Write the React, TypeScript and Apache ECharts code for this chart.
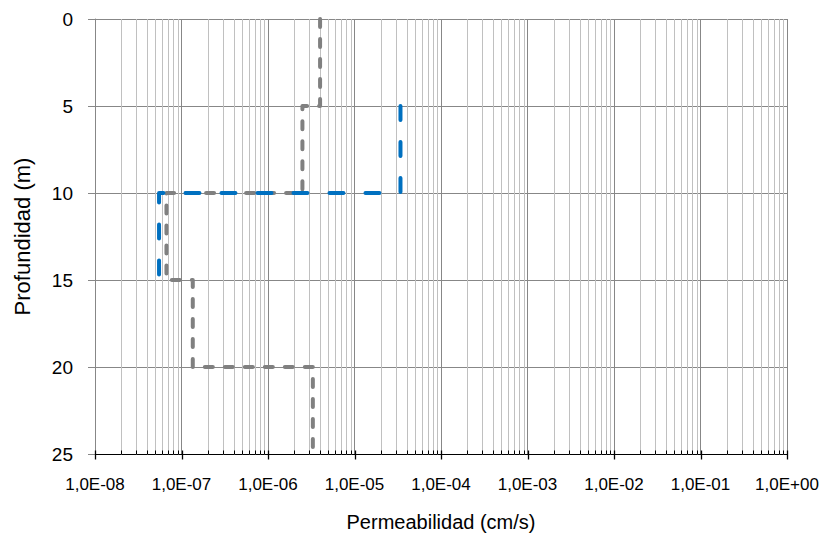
import React, { useEffect, useRef } from "react";
import * as echarts from "echarts";

// Tick labels / axis ranges
const depthTicks = [0, 5, 10, 15, 20, 25];
const decadeExponents = [-8, -7, -6, -5, -4, -3, -2, -1, 0];
const minorMultipliers = [2, 3, 4, 5, 6, 7, 8, 9];

// Series: grey profile (depth m, permeability cm/s)
const greyDepth = [0, 5, 5, 10, 10, 15, 15, 20, 20, 25];
const greyK = [4.0e-6, 4.0e-6, 2.5e-6, 2.5e-6, 6.7e-8, 6.7e-8, 1.35e-7, 1.35e-7, 3.3e-6, 3.3e-6];

// Series: blue profile
const blueDepth = [5, 10, 10, 15];
const blueK = [3.4e-5, 3.4e-5, 5.5e-8, 5.5e-8];

const FONT = "'Liberation Sans', Arial, sans-serif";

function fmtExp(v: number): string {
  const e = Math.round(Math.log10(v));
  const sign = e < 0 ? "-" : "+";
  const a = Math.abs(e);
  return "1,0E" + sign + (a < 10 ? "0" + a : String(a));
}

export default function App() {
  const ref = useRef<HTMLDivElement>(null);
  useEffect(() => {
    if (!ref.current) return;
    const chart = echarts.init(ref.current, undefined, { renderer: "svg" });

    const gridItems: number[][] = [];
    decadeExponents.forEach((e) => {
      gridItems.push([Math.pow(10, e), 25, 1]);
      if (e < 0) {
        minorMultipliers.forEach((m) => gridItems.push([m * Math.pow(10, e), 25, 0]));
      }
    });

    const greyData = greyK.map((k, i) => [k, greyDepth[i]]);
    const blueData = blueK.map((k, i) => [k, blueDepth[i]]);

    chart.setOption({
      animation: false,
      grid: { left: 95, right: 36, top: 19, bottom: 84, containLabel: false },
      xAxis: {
        type: "log",
        logBase: 10,
        min: 1e-8,
        max: 1,
        interval: 1,
        name: "Permeabilidad (cm/s)",
        nameLocation: "middle",
        nameGap: 58,
        nameTextStyle: { fontFamily: FONT, fontSize: 20, color: "#000" },
        axisLine: { show: true, onZero: false, lineStyle: { color: "#000", width: 1 } },
        axisTick: { show: false },
        axisLabel: {
          fontFamily: FONT,
          fontSize: 17,
          color: "#000",
          margin: 22,
          formatter: (v: number) => fmtExp(v),
        },
        splitLine: { show: true, lineStyle: { color: "#878787", width: 1 } },
      },
      yAxis: {
        type: "value",
        inverse: true,
        min: 0,
        max: 25,
        interval: 5,
        name: "Profundidad (m)",
        nameLocation: "middle",
        nameGap: 62,
        nameRotate: 90,
        nameTextStyle: { fontFamily: FONT, fontSize: 22, color: "#000" },
        axisLine: { show: true, onZero: false, lineStyle: { color: "#878787", width: 1 } },
        axisTick: { show: true, inside: false, length: 7, lineStyle: { color: "#878787" } },
        axisLabel: {
          fontFamily: FONT,
          fontSize: 19,
          color: "#000",
          margin: 22,
          formatter: (v: number) => (depthTicks.indexOf(v) >= 0 ? String(v) : ""),
        },
        splitLine: { show: true, lineStyle: { color: "#878787", width: 1 } },
      },
      series: [
        {
          type: "custom",
          z: 1,
          silent: true,
          clip: false,
          encode: { x: 0, y: 1 },
          data: gridItems,
          renderItem: (_params: any, api: any) => {
            const v = api.value(0);
            const major = api.value(2) === 1;
            const top = api.coord([v, 0]);
            const bot = api.coord([v, 25]);
            const x = Math.round(bot[0]) + 0.5;
            const yb = Math.round(bot[1]) + 0.5;
            const children: any[] = [];
            if (!major) {
              children.push({
                type: "line",
                shape: { x1: x, y1: top[1], x2: x, y2: yb },
                style: { stroke: "#c0c0c0", lineWidth: 1 },
              });
              children.push({
                type: "line",
                shape: { x1: x, y1: yb - 4, x2: x, y2: yb },
                style: { stroke: "#000", lineWidth: 1 },
              });
            } else {
              children.push({
                type: "line",
                shape: { x1: x, y1: yb - 4, x2: x, y2: yb + 5 },
                style: { stroke: "#000", lineWidth: 1.3 },
              });
            }
            return { type: "group", children };
          },
        },
        {
          type: "line",
          name: "grey",
          z: 3,
          data: greyData,
          showSymbol: false,
          symbol: "none",
          lineStyle: { color: "#808080", width: 4, type: [8, 12], cap: "round", join: "round" },
        },
        {
          type: "line",
          name: "blue",
          z: 4,
          data: blueData,
          showSymbol: false,
          symbol: "none",
          lineStyle: { color: "#0070c0", width: 4, type: [14, 22], cap: "round", join: "round" },
        },
      ],
    });
    return () => chart.dispose();
  }, []);
  return <div ref={ref} style={{ width: 823, height: 538, position: "absolute", left: 0, top: 0 }} />;
}
